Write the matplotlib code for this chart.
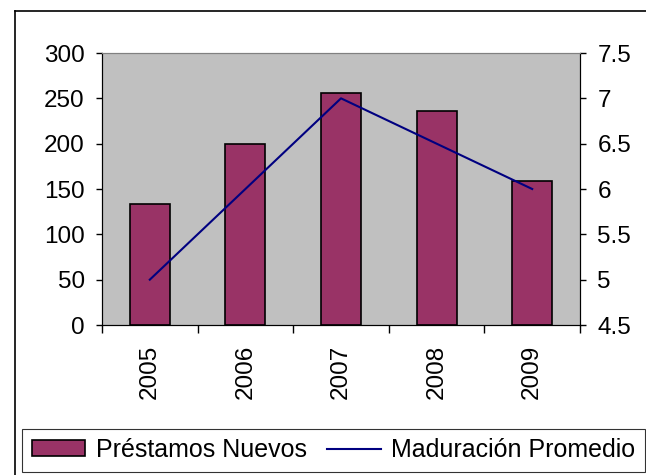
import matplotlib.pyplot as plt
from matplotlib.lines import Line2D
from matplotlib.patches import Patch

plt.rcParams['font.family'] = ['Liberation Sans', 'DejaVu Sans']

years = ['2005', '2006', '2007', '2008', '2009']
prestamos = [134, 200, 256, 236, 159]
maduracion = [5, 6, 7, 6.5, 6]

bar_color = '#993366'
line_color = '#000080'
fs = 17.5

fig = plt.figure(figsize=(6.46, 4.75), dpi=100)
fig.patch.set_facecolor('white')

# outer chart frame (runs off the right and bottom edges)
fig.add_artist(Line2D([15 / 646, 1], [1 - 11 / 475] * 2, color='black', lw=1.2, transform=fig.transFigure))
fig.add_artist(Line2D([15 / 646] * 2, [0, 1 - 11 / 475], color='black', lw=1.2, transform=fig.transFigure))

ax = fig.add_axes([102 / 646, 1 - 325 / 475, 478 / 646, 272 / 475])
ax.set_facecolor('#C0C0C0')
x = range(len(years))
ax.bar(x, prestamos, width=0.42, color=bar_color, edgecolor='black', linewidth=1.2, zorder=2)
ax.set_xlim(-0.5, len(years) - 0.5)
ax.set_ylim(0, 300)
ax.set_yticks(range(0, 301, 50))
ax.set_xticks([i + 0.5 for i in range(-1, len(years))], minor=False)
ax.set_xticklabels([])
ax.set_xticks(list(x), minor=True)
ax.set_xticklabels(years, minor=True, rotation=90, fontsize=fs)
ax.tick_params(axis='x', which='major', length=6, width=1, direction='out', color='black')
ax.tick_params(axis='x', which='minor', length=0, pad=14)
ax.tick_params(axis='y', length=4.5, width=1, labelsize=fs, pad=8)
ax.spines['top'].set_color('#808080')
for s in ('left', 'bottom', 'right'):
    ax.spines[s].set_color('black')

ax2 = ax.twinx()
ax2.plot(list(x), maduracion, color=line_color, lw=1.5, zorder=3)
ax2.set_ylim(4.5, 7.5)
ax2.set_yticks([4.5, 5, 5.5, 6, 6.5, 7, 7.5])
ax2.set_yticklabels(['4.5', '5', '5.5', '6', '6.5', '7', '7.5'])
ax2.tick_params(axis='y', length=4.5, width=1, labelsize=fs, pad=8)
ax2.spines['top'].set_color('#808080')
ax2.spines['right'].set_color('black')

handles = [Patch(facecolor=bar_color, edgecolor='black', linewidth=1.2),
           Line2D([], [], color=line_color, lw=1.5)]
leg = fig.legend(handles, ['Préstamos Nuevos', 'Maduración Promedio'], ncol=2,
                 loc='center', bbox_to_anchor=(333.5 / 646, 1 - 450 / 475),
                 fontsize=18, frameon=True, fancybox=False, edgecolor='black',
                 handlelength=2.15, handleheight=0.6, handletextpad=0.42,
                 columnspacing=0.8, borderpad=0.38, borderaxespad=0)
leg.get_frame().set_linewidth(0.8)

fig.savefig('out.png', dpi=100)
